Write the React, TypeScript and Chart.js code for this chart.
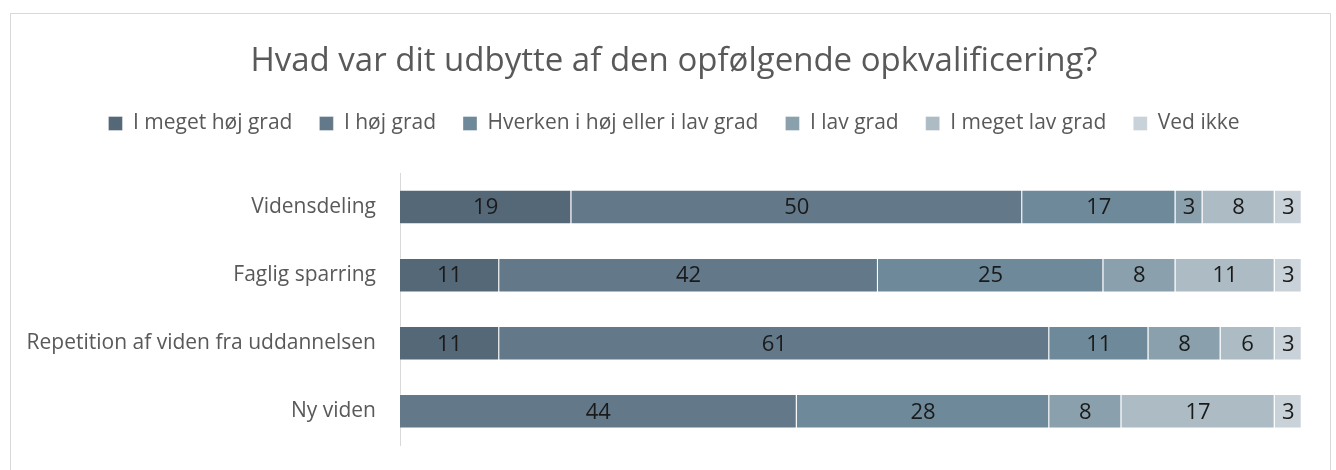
import { useEffect, useRef } from "react";
import { Chart, registerables } from "chart.js";

Chart.register(...registerables);

const categories = [
  "Vidensdeling",
  "Faglig sparring",
  "Repetition af viden fra uddannelsen",
  "Ny viden",
];
const seriesNames = [
  "I meget høj grad",
  "I høj grad",
  "Hverken i høj eller i lav grad",
  "I lav grad",
  "I meget lav grad",
  "Ved ikke",
];
const megetHoejGrad = [19, 11, 11, 0];
const hoejGrad = [50, 42, 61, 44];
const hverken = [17, 25, 11, 28];
const lavGrad = [3, 8, 8, 8];
const megetLavGrad = [8, 11, 6, 17];
const vedIkke = [3, 3, 3, 3];
const seriesColors = ["#546878", "#63798a", "#6e899a", "#8aa0ac", "#adbbc4", "#c9d2d8"];

const titleText = "Hvad var dit udbytte af den opfølgende opkvalificering?";

const valueLabels = {
  id: "valueLabels",
  afterDatasetsDraw(chart: any) {
    const ctx = chart.ctx;
    ctx.save();
    ctx.font = "22px 'Open Sans'";
    ctx.fillStyle = "#1a1a1a";
    ctx.textAlign = "center";
    ctx.textBaseline = "middle";
    chart.data.datasets.forEach((ds: any, i: number) => {
      const meta = chart.getDatasetMeta(i);
      if (meta.hidden) return;
      meta.data.forEach((el: any, j: number) => {
        const v = ds.data[j];
        if (!v) return;
        const p = el.getProps(["x", "y", "base"], true);
        ctx.fillText(String(v), (p.x + p.base) / 2, p.y + 1);
      });
    });
    ctx.restore();
  },
};

export default function App() {
  const ref = useRef<HTMLCanvasElement | null>(null);

  useEffect(() => {
    if (!ref.current) return;
    Chart.defaults.font.family = "'Open Sans', sans-serif";
    const values = [megetHoejGrad, hoejGrad, hverken, lavGrad, megetLavGrad, vedIkke];
    const chart = new Chart(ref.current, {
      type: "bar",
      data: {
        labels: categories,
        datasets: seriesNames.map((name, i) => ({
          label: name,
          data: values[i],
          backgroundColor: seriesColors[i],
          borderColor: "rgba(255,255,255,0.35)",
          borderWidth: 1,
          barPercentage: 0.506,
          categoryPercentage: 1,
        })),
      },
      options: {
        indexAxis: "y",
        responsive: false,
        animation: false,
        layout: { padding: { left: 10, right: 3, top: 0, bottom: 32.6 } },
        plugins: {
          title: {
            display: true,
            text: titleText,
            color: "#595959",
            font: { size: 33, weight: "normal" },
            padding: { top: 28, bottom: 4.4 },
          },
          legend: {
            position: "top",
            labels: {
              boxWidth: 14,
              boxHeight: 14,
              padding: 27,
              color: "#595959",
              font: { size: 21 },
            },
          },
          tooltip: { enabled: false },
        },
        scales: {
          x: {
            stacked: true,
            min: 0,
            max: 100,
            position: "top",
            ticks: { display: false },
            grid: { display: false, drawTicks: false },
            border: { display: false },
            afterFit: (s: any) => {
              s.height = 29;
            },
          },
          y: {
            stacked: true,
            grid: { display: false, drawTicks: false },
            border: { display: true, color: "#d9d9d9", width: 1 },
            ticks: { padding: 24, color: "#595959", font: { size: 21 } },
            afterFit: (s: any) => {
              s.width = 379;
            },
          },
          yRight: {
            type: "category",
            position: "right",
            display: true,
            ticks: { display: false },
            grid: { display: false, drawTicks: false },
            border: { display: false },
            afterFit: (s: any) => {
              s.width = 25.3;
            },
          },
        },
      },
      plugins: [valueLabels],
    });
    return () => chart.destroy();
  }, []);

  return (
    <div
      style={{
        position: "absolute",
        left: 10,
        top: 13,
        width: 1321,
        height: 470,
        border: "1px solid #d9d9d9",
        boxSizing: "border-box",
        background: "#fff",
      }}
    >
      <canvas ref={ref} width={1319} height={468} style={{ display: "block" }} />
    </div>
  );
}
